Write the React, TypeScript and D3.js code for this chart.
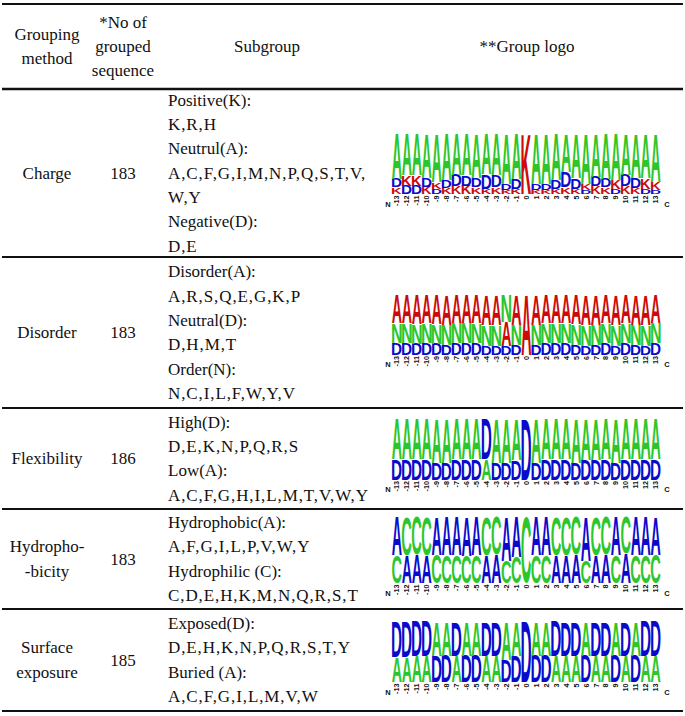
import React, { useMemo } from 'react';
import * as d3 from 'd3';

// ---------- table text ----------
const headerMethod = ['Grouping', 'method'];
const headerCount = ['*No of', 'grouped', 'sequence'];
const headerSubgroup = ['Subgroup'];
const headerLogo = ['**Group logo'];

const methodLines = [['Charge'], ['Disorder'], ['Flexibility'], ['Hydropho-', '-bicity'], ['Surface', 'exposure']];
const groupedCounts = ['183', '183', '186', '183', '185'];
const subgroupLines = [
  ['Positive(K):', 'K,R,H', 'Neutrul(A):', 'A,C,F,G,I,M,N,P,Q,S,T,V,', 'W,Y', 'Negative(D):', 'D,E'],
  ['Disorder(A):', 'A,R,S,Q,E,G,K,P', 'Neutral(D):', 'D,H,M,T', 'Order(N):', 'N,C,I,L,F,W,Y,V'],
  ['High(D):', 'D,E,K,N,P,Q,R,S', 'Low(A):', 'A,C,F,G,H,I,L,M,T,V,W,Y'],
  ['Hydrophobic(A):', 'A,F,G,I,L,P,V,W,Y', 'Hydrophilic (C):', 'C,D,E,H,K,M,N,Q,R,S,T'],
  ['Exposed(D):', 'D,E,H,K,N,P,Q,R,S,T,Y', 'Buried (A):', 'A,C,F,G,I,L,M,V,W'],
];

// ---------- logo positions ----------
const positionLabels = ['-13', '-12', '-11', '-10', '-9', '-8', '-7', '-6', '-5', '-4', '-3', '-2', '-1', '0',
  '1', '2', '3', '4', '5', '6', '7', '8', '9', '10', '11', '12', '13'];

// Charge logo: A (neutral), D (negative), K (positive)
const chargeA = [0.75, 0.69, 0.69, 0.74, 0.80, 0.77, 0.69, 0.69, 0.74, 0.67, 0.69, 0.83, 0.75, 0, 0.83, 0.83, 0.77, 0.63, 0.74, 0.83, 0.71, 0.75, 0.77, 0.68, 0.74, 0.74, 0.80];
const chargeD = [0.14, 0.14, 0.14, 0.14, 0.09, 0.13, 0.18, 0.17, 0.15, 0.24, 0.20, 0.11, 0.17, 0, 0.11, 0.11, 0.14, 0.26, 0.17, 0.07, 0.16, 0.14, 0.09, 0.19, 0.16, 0.09, 0.07];
const chargeK = [0.11, 0.17, 0.17, 0.12, 0.11, 0.10, 0.13, 0.14, 0.11, 0.09, 0.11, 0.06, 0.08, 1, 0.06, 0.06, 0.09, 0.11, 0.09, 0.10, 0.13, 0.11, 0.14, 0.13, 0.10, 0.17, 0.13];

// Disorder logo: A (disorder), N (order), D (neutral)
const disorderA = [0.48, 0.48, 0.49, 0.48, 0.49, 0.50, 0.47, 0.47, 0.48, 0.50, 0.50, 0.40, 0.50, 1, 0.50, 0.48, 0.48, 0.47, 0.49, 0.50, 0.50, 0.48, 0.50, 0.48, 0.50, 0.50, 0.47];
const disorderN = [0.33, 0.33, 0.33, 0.33, 0.33, 0.34, 0.34, 0.34, 0.33, 0.35, 0.35, 0.45, 0.34, 0, 0.34, 0.33, 0.33, 0.33, 0.35, 0.35, 0.34, 0.33, 0.35, 0.33, 0.34, 0.35, 0.34];
const disorderD = [0.19, 0.19, 0.18, 0.19, 0.18, 0.16, 0.19, 0.19, 0.19, 0.15, 0.15, 0.15, 0.16, 0, 0.16, 0.19, 0.19, 0.20, 0.16, 0.15, 0.16, 0.19, 0.15, 0.19, 0.16, 0.15, 0.19];

// Flexibility logo: A (low), D (high)
const flexA = [0.66, 0.66, 0.66, 0.66, 0.73, 0.73, 0.66, 0.66, 0.66, 0.35, 0.73, 0.73, 0.68, 0, 0.73, 0.66, 0.66, 0.66, 0.73, 0.67, 0.67, 0.66, 0.73, 0.66, 0.66, 0.66, 0.66];
const flexD = [0.34, 0.34, 0.34, 0.34, 0.27, 0.27, 0.34, 0.34, 0.34, 0.65, 0.27, 0.27, 0.32, 1, 0.27, 0.34, 0.34, 0.34, 0.27, 0.33, 0.33, 0.34, 0.27, 0.34, 0.34, 0.34, 0.34];

// Hydrophobicity logo: A (hydrophobic), C (hydrophilic)
const hydroA = [0.58, 0.42, 0.43, 0.42, 0.57, 0.58, 0.58, 0.59, 0.58, 0.42, 0.43, 0.66, 0.60, 0, 0.58, 0.58, 0.42, 0.42, 0.43, 0.66, 0.42, 0.43, 0.58, 0.45, 0.58, 0.58, 0.57];
const hydroC = [0.42, 0.58, 0.57, 0.58, 0.43, 0.42, 0.42, 0.41, 0.42, 0.58, 0.57, 0.34, 0.40, 1, 0.42, 0.42, 0.58, 0.58, 0.57, 0.34, 0.58, 0.57, 0.42, 0.55, 0.42, 0.42, 0.43];

// Surface exposure logo: D (exposed), A (buried)
const surfaceD = [0.58, 0.58, 0.57, 0.57, 0.43, 0.44, 0.56, 0.44, 0.44, 0.56, 0.56, 0.37, 0.43, 1, 0.44, 0.44, 0.57, 0.56, 0.56, 0.44, 0.56, 0.56, 0.44, 0.56, 0.44, 0.57, 0.57];
const surfaceA = [0.42, 0.42, 0.43, 0.43, 0.57, 0.56, 0.44, 0.56, 0.56, 0.44, 0.44, 0.63, 0.57, 0, 0.56, 0.56, 0.43, 0.44, 0.44, 0.56, 0.44, 0.44, 0.56, 0.44, 0.56, 0.43, 0.43];

const GREEN = '#2cc62c';
const RED = '#cc0a0a';
const BLUE = '#0a0acc';

type Letter = { ch: string; color: string; freq: number[] };

const logoLetters: Letter[][] = [
  [{ ch: 'A', color: GREEN, freq: chargeA }, { ch: 'D', color: BLUE, freq: chargeD }, { ch: 'K', color: RED, freq: chargeK }],
  [{ ch: 'A', color: RED, freq: disorderA }, { ch: 'N', color: GREEN, freq: disorderN }, { ch: 'D', color: BLUE, freq: disorderD }],
  [{ ch: 'A', color: GREEN, freq: flexA }, { ch: 'D', color: BLUE, freq: flexD }],
  [{ ch: 'A', color: BLUE, freq: hydroA }, { ch: 'C', color: GREEN, freq: hydroC }],
  [{ ch: 'D', color: BLUE, freq: surfaceD }, { ch: 'A', color: GREEN, freq: surfaceA }],
];

const SERIF = '"Liberation Serif", "Times New Roman", serif';
const SANS = '"Liberation Sans", Arial, sans-serif';

function useGlyphMetrics() {
  return useMemo(() => {
    const chars = ['A', 'C', 'D', 'K', 'N'];
    const out: Record<string, { l: number; r: number; a: number; d: number }> = {};
    let ctx: CanvasRenderingContext2D | null = null;
    try {
      ctx = document.createElement('canvas').getContext('2d');
    } catch (e) {
      ctx = null;
    }
    chars.forEach((ch) => {
      let m = { l: 0, r: 72, a: 71.6, d: 0 };
      if (ctx) {
        ctx.font = 'bold 100px "Liberation Sans"';
        const t = ctx.measureText(ch);
        if (typeof t.actualBoundingBoxRight === 'number' && t.actualBoundingBoxRight > 0) {
          m = { l: t.actualBoundingBoxLeft, r: t.actualBoundingBoxRight, a: t.actualBoundingBoxAscent, d: t.actualBoundingBoxDescent };
        }
      }
      out[ch] = m;
    });
    return out;
  }, []);
}

const W = 685;
const H = 716;
const LINE = 24.3;
const FS = 17;

export default function App() {
  const metrics = useGlyphMetrics();
  const rowEdges = [89, 257, 408, 509, 609, 711];
  const stackHeights = [60, 60, 60, 66, 60];
  const stackOffsets = [-39, -38, -39, -42, -38];

  const x = d3.scaleBand<string>().domain(positionLabels).range([392, 660.5]).paddingInner(0.03).paddingOuter(0);

  const linesText = (lines: string[], cx: number, cy: number, anchor: 'middle' | 'start', key: string) =>
    lines.map((t, i) => (
      <text
        key={key + i}
        x={cx}
        y={cy + (i - (lines.length - 1) / 2) * LINE + FS * 0.33}
        textAnchor={anchor}
        fontFamily={SERIF}
        fontSize={FS}
        letterSpacing={anchor === 'start' && t.indexOf(',') >= 0 ? 0.9 : 0}
        fill="#111"
      >
        {t}
      </text>
    ));

  const renderLogo = (li: number) => {
    const center = (rowEdges[li] + rowEdges[li + 1]) / 2;
    const top = center + stackOffsets[li];
    const bottom = top + stackHeights[li];
    const y = d3.scaleLinear().domain([0, 1]).range([bottom, top]);
    const letters = logoLetters[li];
    const els: React.ReactNode[] = [];
    positionLabels.forEach((p, pi) => {
      const col = letters
        .map((L) => ({ ...L, f: L.freq[pi] }))
        .filter((L) => L.f > 0)
        .sort((a, b) => a.f - b.f);
      let cum = 0;
      const x0 = x(p) as number;
      const w = x.bandwidth();
      col.forEach((L, k) => {
        const yb = y(cum);
        const yt = y(cum + L.f);
        cum += L.f;
        const h = yb - yt;
        if (h < 0.4) return;
        const m = metrics[L.ch];
        const sx = w / (m.l + m.r);
        const sy = h / (m.a + m.d);
        els.push(
          <text
            key={`l${li}-${pi}-${k}`}
            x={0}
            y={0}
            fontFamily={SANS}
            fontWeight="bold"
            fontSize={100}
            fill={L.color}
            transform={`translate(${x0 + m.l * sx},${yt + m.a * sy}) scale(${sx},${sy})`}
          >
            {L.ch}
          </text>
        );
      });
      els.push(
        <text
          key={`p${li}-${pi}`}
          transform={`translate(${x0 + w / 2 + 2.6},${bottom + 1.5}) rotate(-90)`}
          textAnchor="end"
          fontFamily={SANS}
          fontWeight="bold"
          fontSize={7.2}
          fill="#111"
        >
          {p}
        </text>
      );
    });
    els.push(
      <text key={`N${li}`} x={388} y={bottom + 12.5} textAnchor="middle" fontFamily={SANS} fontWeight="bold" fontSize={7.5} fill="#111">
        N
      </text>
    );
    els.push(
      <text key={`C${li}`} x={667} y={bottom + 12.5} textAnchor="middle" fontFamily={SANS} fontWeight="bold" fontSize={7.5} fill="#111">
        C
      </text>
    );
    return <g key={`logo${li}`}>{els}</g>;
  };

  const headerCenter = (4 + 89) / 2;

  return (
    <svg width={W} height={H} style={{ position: 'absolute', left: 0, top: 0, background: '#fff' }}>
      <rect x={0} y={0} width={W} height={H} fill="#fff" />
      {/* rules */}
      <line x1={2} x2={683} y1={4} y2={4} stroke="#111" strokeWidth={2} />
      {rowEdges.map((e, i) => (
        <line key={'r' + i} x1={2} x2={683} y1={e} y2={e} stroke="#111" strokeWidth={i === 0 ? 2.5 : 2} />
      ))}
      {/* header */}
      {linesText(headerMethod, 47, headerCenter, 'middle', 'hm')}
      {linesText(headerCount, 123, headerCenter, 'middle', 'hc')}
      {linesText(headerSubgroup, 267, headerCenter, 'middle', 'hs')}
      {linesText(headerLogo, 527, headerCenter, 'middle', 'hl')}
      {/* rows */}
      {methodLines.map((lines, ri) => {
        const c = (rowEdges[ri] + rowEdges[ri + 1]) / 2;
        return (
          <g key={'row' + ri}>
            {linesText(lines, 47, c, 'middle', 'm' + ri)}
            {linesText([groupedCounts[ri]], 123, c, 'middle', 'n' + ri)}
            {linesText(subgroupLines[ri], 168, c, 'start', 's' + ri)}
            {renderLogo(ri)}
          </g>
        );
      })}
    </svg>
  );
}
